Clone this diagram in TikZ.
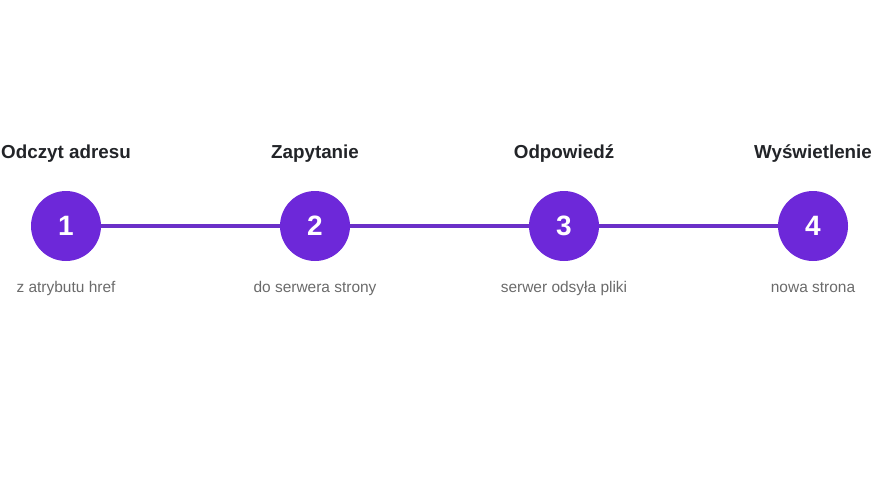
\documentclass[tikz,border=0pt]{standalone}
\usepackage{fontspec}
\setmainfont{Liberation Sans}
\definecolor{stepfill}{HTML}{6D28D9}
\definecolor{linkline}{HTML}{6B30C8}
\definecolor{titlecol}{HTML}{222428}
\definecolor{subcol}{HTML}{6B6B6B}
\begin{document}
\begin{tikzpicture}[x=0.75pt,y=-0.75pt,
  stepcircle/.style={circle,fill=stepfill,minimum size=70*0.75pt,inner sep=0pt,text=white,font=\bfseries\fontsize{21pt}{24pt}\selectfont},
  steptitle/.style={text=titlecol,font=\bfseries\fontsize{14.1pt}{16pt}\selectfont,inner sep=0pt},
  stepsub/.style={text=subcol,font=\fontsize{11.6pt}{13pt}\selectfont,inner sep=0pt},
  linkstyle/.style={draw=linkline,line width=3.2pt}]
\useasboundingbox (0,0) rectangle (880,480);
\node[stepcircle] (c1) at (66,226) {1};
\node[stepcircle] (c2) at (315,226) {2};
\node[stepcircle] (c3) at (564,226) {3};
\node[stepcircle] (c4) at (813,226) {4};
\draw[linkstyle] (c1) -- (c2);
\draw[linkstyle] (c2) -- (c3);
\draw[linkstyle] (c3) -- (c4);
\node[steptitle] (t1) at (66,154) {Odczyt adresu};
\node[steptitle] (t2) at (315,154) {Zapytanie};
\node[steptitle] (t3) at (564,154) {Odpowiedź};
\node[steptitle] (t4) at (813,154) {Wyświetlenie};
\node[stepsub] (s1) at (66,288) {z atrybutu href};
\node[stepsub] (s2) at (315,288) {do serwera strony};
\node[stepsub] (s3) at (564,288) {serwer odsyła pliki};
\node[stepsub] (s4) at (813,288) {nowa strona};
\end{tikzpicture}
\end{document}
